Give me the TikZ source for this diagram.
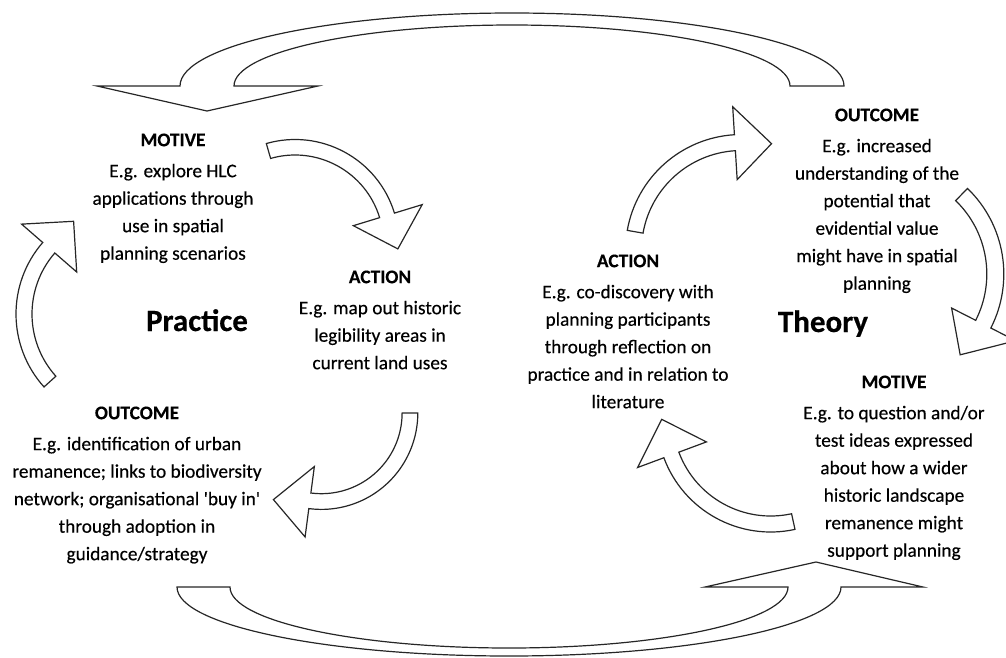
\documentclass[tikz,border=0pt]{standalone}
\usepackage{fontspec}
\newfontfamily\carlito{Carlito}[FakeBold=0.35]

% Curved block arrow on a circular arc.
% #1 centre (x,y without brackets), #2 inner radius, #3 outer radius,
% #4 tail angle, #5 head angle, #6 head inner radius, #7 head outer radius,
% #8 tip angle, #9 tip radius
\newcommand\bentarrow[9]{%
  \draw[blockarrow] ([shift={(#4:#3)}]#1) arc[start angle=#4, end angle=#5, radius=#3]
    -- ([shift={(#5:#7)}]#1) -- ([shift={(#8:#9)}]#1) -- ([shift={(#5:#6)}]#1)
    -- ([shift={(#5:#2)}]#1) arc[start angle=#5, end angle=#4, radius=#2] -- cycle;}

\begin{document}
\begin{tikzpicture}[x=1pt, y=-1pt,
  blockarrow/.style={draw=black!85, line width=1.2pt, fill=white, line join=miter},
  textblock/.style={align=center, inner sep=0pt, anchor=north, text=black,
    font=\carlito\fontsize{19.3}{27.5}\selectfont},
  cycletitle/.style={anchor=base, inner sep=0pt, text=black,
    font=\carlito\bfseries\fontsize{31}{36}\selectfont}]

\useasboundingbox (0,0) rectangle (1006,657);

\begin{scope}
  \clip (0,0) rectangle (1006,657);

  % large arrow across the top: Theory -> Practice
  \draw[blockarrow] (844,86) arc[start angle=0, end angle=-180, x radius=332, y radius=73]
    -- (97,86) -- (207,111) -- (318,86) -- (234,86)
    arc[start angle=-180, end angle=0, x radius=278, y radius=61] -- cycle;

  % large arrow across the bottom: Practice -> Theory
  \draw[blockarrow] (177,587) arc[start angle=180, end angle=0, x radius=332, y radius=69]
    -- (923,587) -- (816,562) -- (705,587) -- (788,587)
    arc[start angle=0, end angle=180, x radius=279, y radius=61] -- cycle;

  % practice cycle
  \bentarrow{295,243.5}{88.5}{104}{254}{343}{61}{133}{3}{103}
  \bentarrow{321.4,413}{80.7}{96.4}{0}{97.5}{54}{125}{119}{99}
  \bentarrow{125,314}{93}{109}{138}{221}{64}{137}{241}{106}

  % theory cycle
  \bentarrow{741.5,250.5}{100}{116}{190}{266.5}{71}{144}{285.7}{111}
  \bentarrow{884.8,274}{102}{119}{-46}{27}{75}{147}{47}{110.5}
  \bentarrow{770.7,418}{98}{114}{77.7}{159.6}{68.6}{142}{179.3}{109}
\end{scope}

% practice side
\node[textblock] (motiveP) at (173,126.75) {\strut\textbf{MOTIVE}\\[3.5pt]
  E.g. explore HLC\\ applications through\\ use in spatial\\ planning scenarios};
\node[textblock] (actionP) at (380,263.75) {\strut\textbf{ACTION}\\[3.5pt]
  E.g. map out historic\\ legibility areas in\\ current land uses};
\node[textblock] (outcomeP) at (137,399.75) {\strut\textbf{OUTCOME}\\[3.5pt]
  E.g. identification of urban\\ remanence; links to biodiversity\\
  network; organisational 'buy in'\\ through adoption in\\ guidance/strategy};
\node[cycletitle] (practice) at (197,331) {Practice};

% theory side
\node[textblock] (actionT) at (628,247.75) {\strut\textbf{ACTION}\\[3.5pt]
  E.g. co-discovery with\\ planning participants\\ through reflection on\\
  practice and in relation to\\ literature};
\node[textblock] (outcomeT) at (877,101.75) {\strut\textbf{OUTCOME}\\[3.5pt]
  E.g. increased\\ understanding of the\\ potential that\\ evidential value\\
  might have in spatial\\ planning};
\node[textblock] (motiveT) at (894,368.75) {\strut\textbf{MOTIVE}\\[3.5pt]
  E.g. to question and/or\\ test ideas expressed\\ about how a wider\\
  historic landscape\\ remanence might\\ support planning};
\node[cycletitle] (theory) at (823,332) {Theory};

\end{tikzpicture}
\end{document}
